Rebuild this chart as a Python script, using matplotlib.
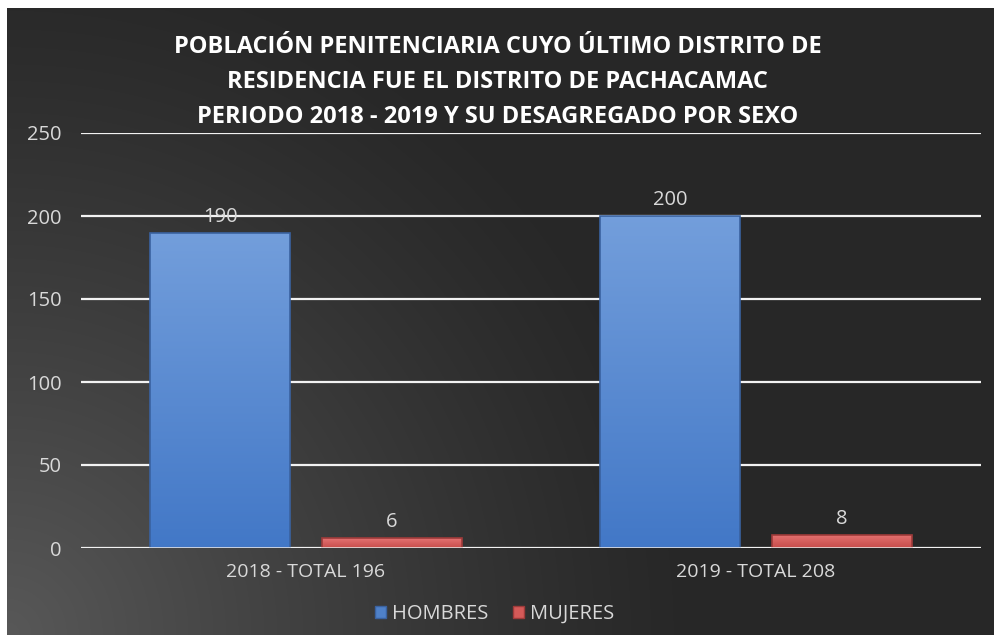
import numpy as np
import matplotlib
matplotlib.use('Agg')
from matplotlib import pyplot as plt
from matplotlib.patches import Patch

categories = ['2018 - TOTAL 196', '2019 - TOTAL 208']
hombres = [190, 200]
mujeres = [6, 8]
series_names = ['HOMBRES', 'MUJERES']
yticks = [0, 50, 100, 150, 200, 250]

title = ('POBLACIÓN PENITENCIARIA CUYO ÚLTIMO DISTRITO DE\n'
         'RESIDENCIA FUE EL DISTRITO DE PACHACAMAC\n'
         'PERIODO 2018 - 2019 Y SU DESAGREGADO POR SEXO')

plt.rcParams['font.family'] = ['Open Sans', 'DejaVu Sans']

W, H = 995, 635
fig = plt.figure(figsize=(W / 100, H / 100), dpi=100, facecolor='white')

# dark background with light corner at bottom-left
bg = fig.add_axes([7 / W, 0, (W - 7) / W, (H - 8) / H])
bg.set_axis_off()
ny, nx = 300, 470
yy, xx = np.mgrid[0:ny, 0:nx]
d = np.hypot(xx / nx * (W - 7), (ny - 1 - yy) / ny * (H - 8))
t = np.clip(1 - d / 680, 0, 1) ** 1.2
g = 0.155 + 0.19 * t
bg.imshow(np.dstack([g, g, g]), aspect='auto', extent=[0, 1, 0, 1], interpolation='bilinear')
bg.set_xlim(0, 1)
bg.set_ylim(0, 1)

ax = fig.add_axes([81 / W, (H - 548) / H, 900 / W, 415 / H])
ax.patch.set_alpha(0)

x = np.arange(len(categories))
w = 0.311
off = 0.191
b1 = ax.bar(x - off, hombres, w, color='#5b8bd0', zorder=3)
b2 = ax.bar(x + off, mujeres, w, color='#d45a58', zorder=3)


def shade(bars, top, bottom, edge):
    for p in bars:
        x0, y0 = p.get_x(), p.get_y()
        bw, bh = p.get_width(), p.get_height()
        grad = np.linspace(0, 1, 100)[:, None, None]
        c = np.array(bottom)[None, None, :] * grad + np.array(top)[None, None, :] * (1 - grad)
        c = np.repeat(c, 2, axis=1)
        im = ax.imshow(c, extent=[x0, x0 + bw, y0, y0 + bh], aspect='auto', zorder=3.5,
                       interpolation='bilinear')
        im.set_clip_path(p)
        p.set_edgecolor(edge)
        p.set_linewidth(1.2)
        p.set_zorder(4)
        p.set_facecolor('none')


shade(b1, (0.45, 0.62, 0.86), (0.26, 0.47, 0.78), '#3a62a0')
shade(b2, (0.90, 0.45, 0.45), (0.78, 0.30, 0.29), '#9e3b3a')

ax.set_xlim(-0.5, 1.5)
ax.set_ylim(0, 250)
ax.set_yticks(yticks)
ax.yaxis.grid(True, color='#f2f2f2', lw=1.6, zorder=1)
ax.set_axisbelow(True)
for s in ax.spines.values():
    s.set_visible(False)
ax.axhline(0, color='#f2f2f2', lw=1.8, zorder=5)
ax.tick_params(axis='y', length=0, pad=14, labelsize=14.5, labelcolor='#d9d9d9')
ax.set_xticks(x)
ax.set_xticklabels(categories)
ax.tick_params(axis='x', length=0, pad=11, labelsize=14, labelcolor='#d9d9d9')

for bars, vals in [(b1, hombres), (b2, mujeres)]:
    for p, v in zip(bars, vals):
        ax.text(p.get_x() + p.get_width() / 2, v + 3.5, str(v), ha='center', va='bottom',
                fontsize=14.5, color='#d9d9d9', zorder=6)

fig.text(0.5, 1 - 82 / H, title, ha='center', va='center', color='white',
         fontsize=17, fontweight='bold', linespacing=1.6)

handles = [Patch(facecolor='#4f81c9', edgecolor='#3a62a0'),
           Patch(facecolor='#d45a58', edgecolor='#9e3b3a')]
leg = fig.legend(handles, series_names, loc='center', bbox_to_anchor=(0.497, 1 - 614 / H),
                 ncol=2, frameon=False, fontsize=14.5, labelcolor='#d9d9d9',
                 handlelength=0.55, handleheight=0.55, handletextpad=0.3, columnspacing=1.2)

fig.savefig('out.png', dpi=100, facecolor='white')
